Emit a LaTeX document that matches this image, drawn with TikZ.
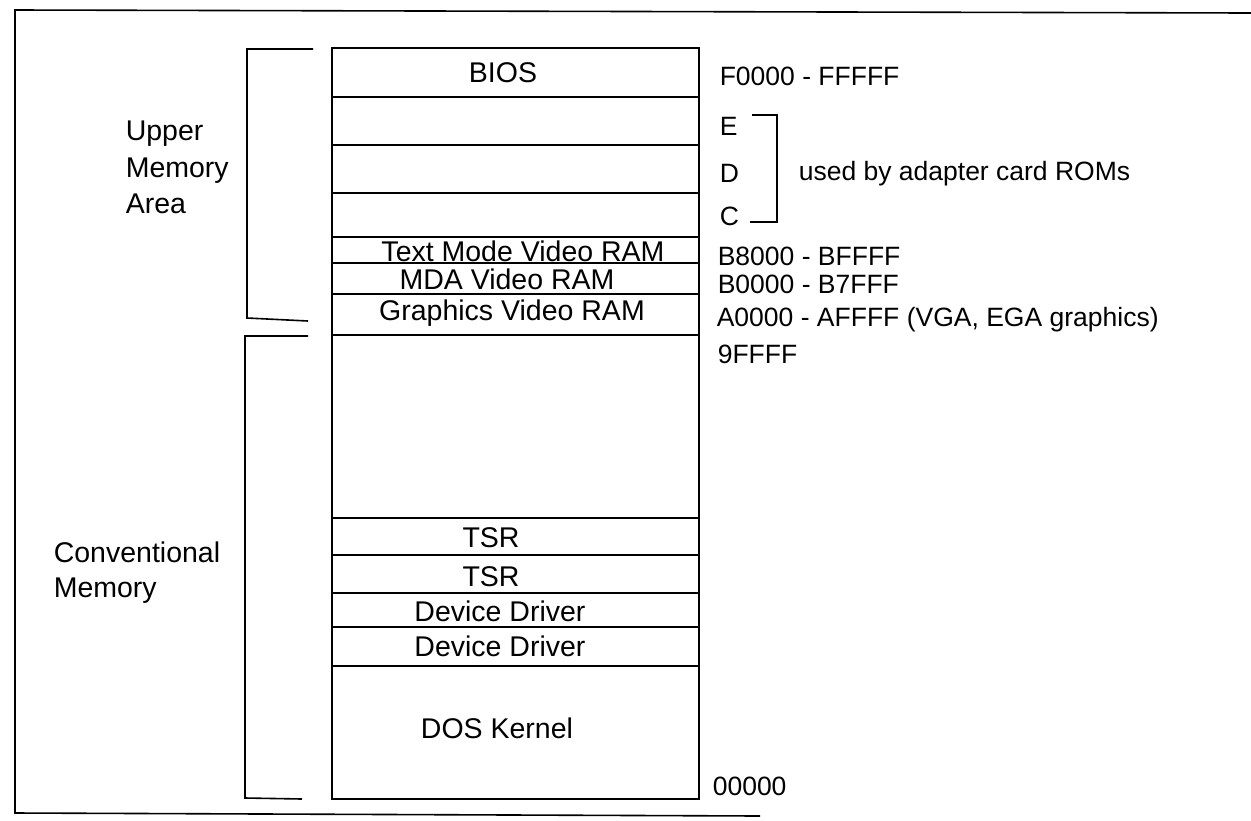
\documentclass[tikz,border=0pt]{standalone}
\usepackage{fontspec}
\setmainfont{Liberation Sans}
\begin{document}
\begin{tikzpicture}[x=1pt,y=-1pt,
  line width=1.6pt, line join=miter,
  coltext/.style={anchor=base, inner sep=0pt, font=\fontsize{28.5}{30}\selectfont},
  sidetext/.style={anchor=base west, inner sep=0pt, font=\fontsize{28.5}{30}\selectfont},
  addrtext/.style={anchor=base west, inner sep=0pt, font=\fontsize{26.5}{28}\selectfont}]
\useasboundingbox (0,0) rectangle (1251,820);
% frame
\draw (1251,13) -- (15,10) -- (15,813) -- (760,816);
% memory column
\draw (332,48) rectangle (699,799);
\foreach \y in {97,145,193,237,263,294,335,518,555,593,627,666}
  \draw (332,\y) -- (699,\y);
% column labels
\node[coltext] (bios) at (503,82) {BIOS};
\node[coltext] (tmv) at (523,261) {Text Mode Video RAM};
\node[coltext] (mda) at (507,289) {MDA Video RAM};
\node[coltext] (gfx) at (512,320) {Graphics Video RAM};
\node[coltext] (tsr1) at (491,547) {TSR};
\node[coltext] (tsr2) at (491,586) {TSR};
\node[coltext] (dd1) at (500,621) {Device Driver};
\node[coltext] (dd2) at (500,656) {Device Driver};
\node[coltext] (dos) at (497,738) {DOS Kernel};
% left brackets
\draw (313,49) -- (247,49) -- (247,318) -- (308,321);
\draw (308,336) -- (245,336) -- (245,798) -- (302,799);
\node[sidetext] (upper) at (125,140) {Upper};
\node[sidetext] (mem1) at (125,177) {Memory};
\node[sidetext] (area) at (125,213) {Area};
\node[sidetext] (conv) at (53,562) {Conventional};
\node[sidetext] (mem2) at (53,597) {Memory};
% right labels
\node[addrtext] (f0) at (719,85) {F0000 - FFFFF};
\node[addrtext] (e) at (719,135) {E};
\node[addrtext] (d) at (719,182) {D};
\node[addrtext] (c) at (719,225) {C};
\node[addrtext] (used) at (798,180) {used by adapter card ROMs};
\node[addrtext] (b8) at (717,265) {B8000 - BFFFF};
\node[addrtext] (b0) at (717,293) {B0000 - B7FFF};
\node[addrtext] (a0) at (716,326) {A0000 - AFFFF (VGA, EGA graphics)};
\node[addrtext] (n9) at (717,363) {9FFFF};
\node[addrtext] (z0) at (712,795) {00000};
% right bracket
\coordinate (rbt) at (752,115);
\coordinate (rbb) at (750,222);
\draw (rbt) -- (777,115) -- (777,222) -- (rbb);
\end{tikzpicture}
\end{document}
